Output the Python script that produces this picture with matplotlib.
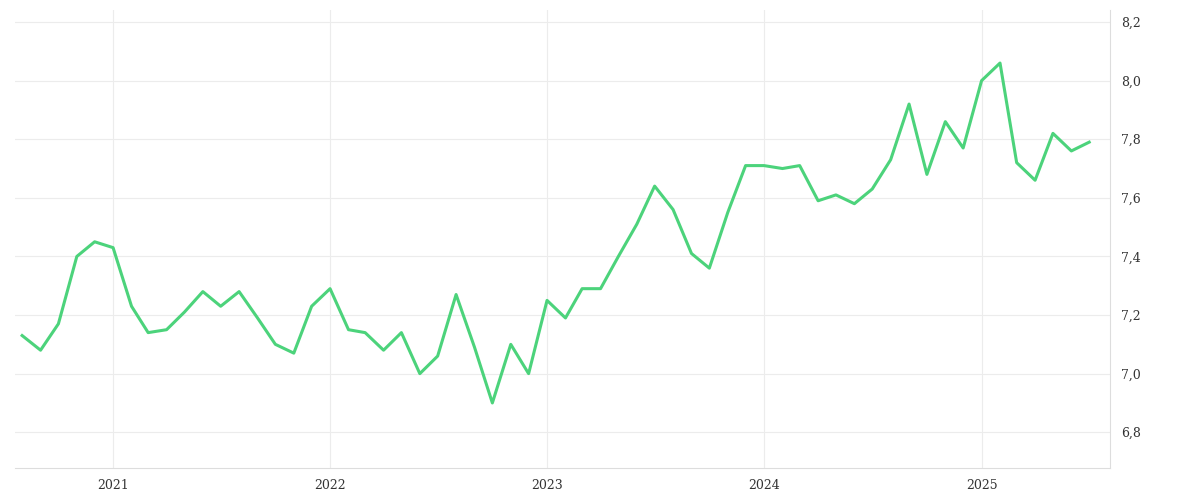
import matplotlib
matplotlib.use("Agg")
import matplotlib.pyplot as plt
import matplotlib.dates as mdates
import pandas as pd

dates = pd.date_range("2020-08-01", periods=60, freq="MS")
values = [7.13,7.08,7.17,7.40,7.45,7.43,7.23,7.14,7.15,7.21,7.28,7.23,7.28,7.19,7.10,7.07,7.23,
          7.29,7.15,7.14,7.08,7.14,7.00,7.06,7.27,7.09,6.90,7.10,7.00,
          7.25,7.19,7.29,7.29,7.40,7.51,7.64,7.56,7.41,7.36,7.55,7.71,
          7.71,7.70,7.71,7.59,7.61,7.58,7.63,7.73,7.92,7.68,7.86,7.77,
          8.00,8.06,7.72,7.66,7.82,7.76,7.79]
yticks = [6.8,7.0,7.2,7.4,7.6,7.8,8.0,8.2]
years = [2021,2022,2023,2024,2025]

fig = plt.figure(figsize=(12,5), dpi=100)
ax = fig.add_axes([15/1200, 32/500, 1095/1200, 458/500])
ax.plot(dates, values, color="#4cd37b", lw=2.2)
ax.set_ylim(6.678, 8.241)
ax.set_xlim(pd.Timestamp("2020-07-20"), pd.Timestamp("2025-08-05"))
ax.set_yticks(yticks)
ax.set_yticklabels([f"{v:.1f}".replace(".", ",") for v in yticks])
ax.set_xticks([pd.Timestamp(f"{y}-01-01") for y in years])
ax.set_xticklabels([str(y) for y in years])
ax.yaxis.tick_right()
ax.grid(True, color="#ececec", lw=0.8)
for s in ["top","left"]:
    ax.spines[s].set_visible(False)
for s in ["right","bottom"]:
    ax.spines[s].set_color("#dddddd")
ax.tick_params(length=0, labelsize=9, colors="#333333", pad=8)
for t in ax.get_xticklabels()+ax.get_yticklabels():
    t.set_family("DejaVu Serif")
fig.savefig("out.png")
